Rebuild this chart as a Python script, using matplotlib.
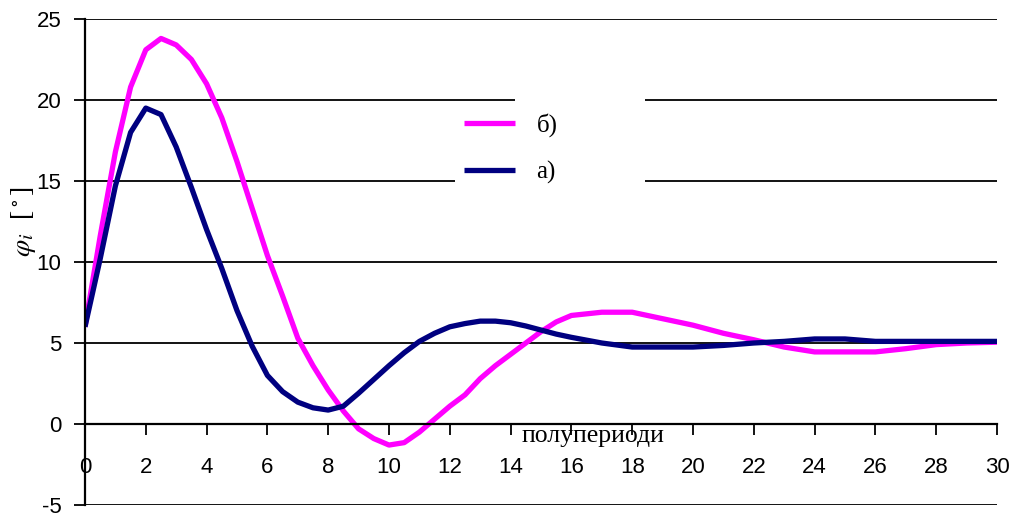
import matplotlib.pyplot as plt
from matplotlib.patches import Rectangle

# half-periods and the two angle series
x_vals = [0, 0.5, 1, 1.5, 2, 2.5, 3, 3.5, 4, 4.5, 5, 5.5, 6, 6.5, 7, 7.5, 8, 8.5,
          9, 9.5, 10, 10.5, 11, 11.5, 12, 12.5, 13, 13.5, 14, 14.5, 15, 15.5, 16,
          17, 18, 19, 20, 21, 22, 23, 24, 25, 26, 27, 28, 29, 30]
phi_b = [6.0, 11.6, 16.8, 20.8, 23.1, 23.8, 23.4, 22.5, 21.0, 18.9, 16.2, 13.3,
         10.4, 7.9, 5.3, 3.6, 2.1, 0.8, -0.3, -0.9, -1.3, -1.15, -0.5, 0.3, 1.1,
         1.8, 2.8, 3.6, 4.3, 5.0, 5.7, 6.3, 6.7, 6.9, 6.9, 6.5, 6.1, 5.6, 5.2,
         4.75, 4.45, 4.45, 4.45, 4.65, 4.9, 5.0, 5.05]
phi_a = [6.0, 10.2, 14.7, 18.0, 19.5, 19.1, 17.1, 14.6, 12.0, 9.6, 7.0, 4.8,
         3.0, 2.0, 1.35, 1.0, 0.86, 1.1, 1.9, 2.75, 3.6, 4.4, 5.1, 5.6, 6.0,
         6.2, 6.35, 6.35, 6.25, 6.05, 5.8, 5.55, 5.35, 5.0, 4.75, 4.75, 4.75,
         4.85, 5.0, 5.1, 5.25, 5.25, 5.1, 5.1, 5.1, 5.1, 5.1]
labels = ["б)", "а)"]
x_ticks = list(range(0, 31, 2))
y_ticks = list(range(-5, 26, 5))

plt.rcParams["mathtext.fontset"] = "stix"
plt.rcParams["axes.unicode_minus"] = False

W, H = 1013, 516
fig = plt.figure(figsize=(W / 100, H / 100), dpi=100)
ax = fig.add_axes([85 / W, 1 - 505 / H, (997 - 85) / W, (505 - 19) / H])

ax.set_xlim(0, 30)
ax.set_ylim(-5, 25)

for y in y_ticks:
    ax.axhline(y, color="black", lw=1.3, zorder=0.5)

line_b, = ax.plot(x_vals, phi_b, color="#FF00FF", lw=3.8, zorder=2,
                  solid_joinstyle="round", solid_capstyle="butt")
line_a, = ax.plot(x_vals, phi_a, color="#000080", lw=3.8, zorder=2.1,
                  solid_joinstyle="round", solid_capstyle="butt")

for s in ["top", "right"]:
    ax.spines[s].set_visible(False)
ax.spines["bottom"].set_position(("data", 0))
ax.spines["bottom"].set_linewidth(1.6)
ax.spines["left"].set_linewidth(1.6)

ax.set_xticks(x_ticks)
ax.set_yticks(y_ticks)
ax.tick_params(axis="x", direction="out", length=8, width=1.3, pad=16,
               labelsize=16)
ax.tick_params(axis="y", direction="out", length=8, width=1.3, pad=9,
               labelsize=16)
for t in ax.get_xticklabels() + ax.get_yticklabels():
    t.set_fontfamily("Liberation Sans")

ax.text(16.7, -0.75, "полупериоди", family="Liberation Serif", fontsize=18.5,
        ha="center", va="center", zorder=3)

fig.text(24 / W, 1 - 222 / H, r"$\varphi_i$  [$^\circ$]", rotation=90,
         family="Liberation Serif", fontsize=20, ha="center", va="center")

# white area behind legend
ax.add_patch(Rectangle((455 / W, 1 - 196 / H), 190 / W, 92 / H,
                       transform=fig.transFigure, facecolor="white",
                       edgecolor="none", zorder=3, clip_on=False))
ax.add_patch(Rectangle((515 / W, 1 - 106 / H), 130 / W, 16 / H,
                       transform=fig.transFigure, facecolor="white",
                       edgecolor="none", zorder=3, clip_on=False))

leg = ax.legend([line_b, line_a], labels, loc="upper left",
                bbox_to_anchor=(464 / W, 1 - 113 / H),
                bbox_transform=fig.transFigure, frameon=False,
                prop={"family": "Liberation Serif", "size": 18},
                handlelength=2.05, handletextpad=0.85, labelspacing=0.95,
                borderpad=0, borderaxespad=0)
leg.set_zorder(5)

fig.savefig("out.png", dpi=100)
